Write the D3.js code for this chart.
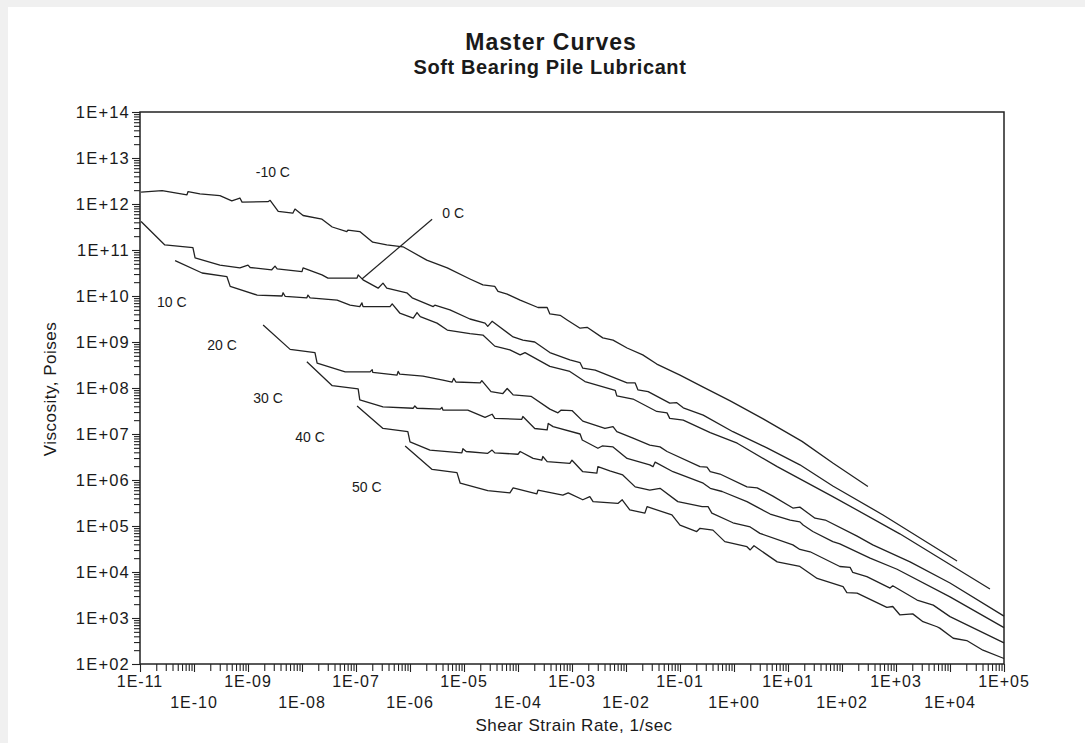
<!DOCTYPE html>
<html>
<head>
<meta charset="utf-8">
<script src="https://cdnjs.cloudflare.com/ajax/libs/d3/7.8.5/d3.min.js"></script>
<style>
  body { margin: 0; background: #f0f0f0; }
  svg { display: block; }
  text { font-family: "Liberation Sans", Arial, Helvetica, sans-serif; fill: #1a1a1a; }
</style>
</head>
<body>
<svg id="chart" width="1085" height="743"></svg>
<script>
// points are [log10 shear rate (1/sec), log10 viscosity (poises)]
const curveM10 = [[-10.98,12.26],[-10.59,12.29],[-10.13,12.20],[-10.11,12.27],[-9.89,12.22],[-9.52,12.18],[-9.30,12.07],[-9.15,12.13],[-9.11,12.04],[-8.63,12.05],[-8.59,12.08],[-8.44,11.84],[-8.17,11.80],[-8.13,11.89],[-7.98,11.75],[-7.63,11.67],[-7.44,11.50],[-7.17,11.40],[-7.15,11.43],[-6.93,11.40],[-6.69,11.17],[-6.43,11.11],[-6.13,11.07],[-5.69,10.78],[-5.31,10.61],[-4.89,10.37],[-4.65,10.24],[-4.43,10.21],[-4.37,10.10],[-4.20,10.04],[-3.96,9.91],[-3.63,9.75],[-3.46,9.75],[-3.41,9.61],[-3.22,9.58],[-3.09,9.48],[-2.85,9.30],[-2.72,9.32],[-2.43,9.09],[-2.24,9.04],[-1.98,8.87],[-1.69,8.72],[-1.43,8.52],[-1.00,8.28],[-0.57,8.02],[-0.07,7.72],[0.54,7.33],[1.26,6.84],[1.83,6.37],[2.48,5.86]]

const curve0 = [[-10.98,11.62],[-10.54,11.11],[-10.02,11.05],[-9.98,10.83],[-9.52,10.67],[-9.15,10.61],[-9.00,10.67],[-8.96,10.62],[-8.56,10.57],[-8.50,10.65],[-8.46,10.59],[-8.00,10.53],[-7.98,10.61],[-7.63,10.46],[-7.52,10.39],[-6.98,10.39],[-6.96,10.46],[-6.87,10.35],[-6.59,10.17],[-6.50,10.28],[-6.43,10.17],[-6.06,10.07],[-5.96,9.96],[-5.57,9.77],[-5.54,9.80],[-5.26,9.70],[-4.89,9.50],[-4.61,9.41],[-4.56,9.34],[-4.48,9.45],[-4.09,9.11],[-3.91,9.04],[-3.69,9.00],[-3.41,8.77],[-3.04,8.61],[-2.85,8.55],[-2.80,8.43],[-2.57,8.39],[-1.98,8.11],[-1.83,8.11],[-1.78,7.96],[-1.59,7.92],[-1.19,7.67],[-1.06,7.68],[-0.94,7.57],[-0.57,7.41],[-0.02,7.05],[0.61,6.70],[1.22,6.33],[1.83,5.87],[2.76,5.24],[4.13,4.24]]

const curve10 = [[-10.35,10.77],[-9.85,10.50],[-9.39,10.42],[-9.33,10.21],[-8.83,10.02],[-8.37,10.00],[-8.35,10.07],[-8.31,9.99],[-7.91,9.96],[-7.89,10.02],[-7.85,9.96],[-7.35,9.91],[-7.11,9.80],[-6.93,9.77],[-6.89,9.85],[-6.87,9.77],[-6.37,9.77],[-6.33,9.83],[-6.19,9.63],[-5.94,9.52],[-5.87,9.64],[-5.81,9.55],[-5.50,9.41],[-5.31,9.26],[-4.89,9.18],[-4.65,9.15],[-4.43,8.91],[-4.15,8.83],[-3.96,8.72],[-3.87,8.77],[-3.41,8.47],[-3.04,8.36],[-2.76,8.14],[-2.20,7.95],[-2.17,7.83],[-1.87,7.76],[-1.43,7.49],[-1.24,7.46],[-1.19,7.34],[-0.94,7.30],[-0.44,7.03],[0.06,6.80],[0.80,6.29],[1.83,5.64],[3.07,4.83],[4.74,3.63]]

const curve20 = [[-8.72,9.37],[-8.22,8.84],[-7.76,8.77],[-7.72,8.54],[-7.20,8.35],[-6.74,8.35],[-6.70,8.40],[-6.69,8.34],[-6.24,8.28],[-6.22,8.36],[-6.19,8.30],[-5.76,8.26],[-5.39,8.17],[-5.22,8.13],[-5.19,8.21],[-5.15,8.13],[-4.70,8.11],[-4.67,8.16],[-4.50,7.92],[-4.28,7.88],[-4.20,7.99],[-4.09,7.85],[-3.76,7.82],[-3.41,7.54],[-3.26,7.46],[-3.20,7.52],[-3.00,7.51],[-2.80,7.28],[-2.39,7.12],[-2.24,7.16],[-2.17,7.05],[-1.87,6.91],[-1.56,6.76],[-1.37,6.72],[-1.24,6.62],[-0.63,6.29],[-0.50,6.28],[-0.44,6.18],[-0.26,6.13],[0.24,5.85],[0.43,5.83],[0.72,5.65],[1.09,5.39],[1.22,5.41],[1.50,5.17],[1.69,5.13],[2.28,4.78],[2.57,4.59],[3.26,4.22],[4.00,3.76],[5.00,3.04]]

const curve30 = [[-7.91,8.57],[-7.44,8.05],[-6.96,7.98],[-6.93,7.74],[-6.50,7.59],[-5.94,7.56],[-5.91,7.61],[-5.87,7.56],[-5.44,7.54],[-5.41,7.58],[-5.39,7.52],[-4.93,7.52],[-4.61,7.36],[-4.48,7.43],[-4.43,7.34],[-3.93,7.32],[-3.91,7.38],[-3.69,7.12],[-3.46,7.09],[-3.44,7.23],[-3.35,7.16],[-2.85,7.00],[-2.81,6.87],[-2.52,6.69],[-2.44,6.74],[-2.24,6.72],[-1.98,6.47],[-1.56,6.33],[-1.50,6.29],[-1.46,6.39],[-1.13,6.18],[-0.57,5.93],[-0.44,5.82],[-0.22,5.75],[0.24,5.53],[0.43,5.41],[0.67,5.26],[1.04,5.13],[1.22,5.09],[1.28,5.02],[1.46,4.88],[1.83,4.66],[1.96,4.61],[2.52,4.30],[3.02,4.06],[4.00,3.46],[5.00,2.79]]

const curve40 = [[-6.98,7.61],[-6.50,7.12],[-6.04,7.05],[-6.00,6.83],[-5.63,6.65],[-5.04,6.59],[-5.02,6.68],[-4.96,6.62],[-4.56,6.58],[-4.48,6.65],[-4.43,6.59],[-4.00,6.56],[-3.96,6.62],[-3.72,6.47],[-3.56,6.43],[-3.54,6.51],[-3.46,6.40],[-3.04,6.36],[-3.00,6.43],[-2.80,6.18],[-2.54,6.15],[-2.52,6.29],[-2.30,6.20],[-2.06,6.11],[-1.83,5.85],[-1.56,5.78],[-1.37,5.82],[-1.04,5.53],[-0.59,5.42],[-0.48,5.42],[-0.41,5.28],[-0.02,5.07],[0.30,4.98],[0.48,4.84],[1.09,4.59],[1.22,4.49],[1.41,4.44],[1.96,4.12],[2.15,4.10],[2.20,3.99],[2.46,3.90],[2.89,3.65],[2.94,3.70],[3.39,3.39],[3.69,3.28],[4.00,3.03],[5.00,2.46]]

const curve50 = [[-6.09,6.74],[-5.59,6.23],[-5.13,6.16],[-5.07,5.93],[-4.56,5.77],[-4.15,5.72],[-4.09,5.83],[-3.65,5.70],[-3.63,5.78],[-3.17,5.67],[-3.07,5.72],[-2.80,5.57],[-2.67,5.64],[-2.61,5.53],[-2.15,5.49],[-2.07,5.57],[-1.93,5.35],[-1.65,5.28],[-1.61,5.42],[-1.15,5.24],[-1.00,5.02],[-0.69,4.88],[-0.63,4.95],[-0.39,4.91],[-0.17,4.66],[0.24,4.55],[0.30,4.48],[0.37,4.57],[0.80,4.22],[1.22,4.12],[1.54,3.86],[2.02,3.68],[2.09,3.55],[2.28,3.54],[2.83,3.23],[2.94,3.25],[3.07,3.07],[3.31,3.09],[3.50,2.92],[3.76,2.81],[3.81,2.78],[4.06,2.56],[4.31,2.51],[4.61,2.30],[5.00,2.12]]

const curveNames = ['-10 C', '0 C', '10 C', '20 C', '30 C', '40 C', '50 C']
const curves = [curveM10, curve0, curve10, curve20, curve30, curve40, curve50]
// where each name sits, same log units as the curves
const labelSpots = [[-8.54,12.70],[-5.20,11.80],[-10.41,9.87],[-9.48,8.93],[-8.63,7.78],[-7.85,6.93],[-6.80,5.85]]
// pointer from the "0 C" name down to its curve
const leader0C = [[-6.89,10.37],[-5.59,11.67]]

const xTickLabels = ['1E-11','1E-10','1E-09','1E-08','1E-07','1E-06','1E-05','1E-04','1E-03','1E-02','1E-01','1E+00','1E+01','1E+02','1E+03','1E+04','1E+05']
const yTickLabels = ['1E+02','1E+03','1E+04','1E+05','1E+06','1E+07','1E+08','1E+09','1E+10','1E+11','1E+12','1E+13','1E+14']

const svg = d3.select('#chart')
svg.append('rect').attr('x', 8).attr('y', 7).attr('width', 1077).attr('height', 736).attr('fill', '#fff')

const plotLeft = 140, plotRight = 1004, plotTop = 112, plotBottom = 664
const x = d3.scaleLog().domain([1e-11, 1e5]).range([plotLeft, plotRight])
const y = d3.scaleLog().domain([1e2, 1e14]).range([plotBottom, plotTop])

const xMajor = xTickLabels.map(Number)
const yMajor = yTickLabels.map(Number)
function minorsOf (majors) {
  const out = []
  majors.slice(0, -1).forEach(m => { for (let k = 2; k < 10; k++) out.push(m * k) })
  return out
}

// x axis, labels staggered on two rows
const gx = svg.append('g').attr('transform', 'translate(0,' + plotBottom + ')')
gx.append('g').call(d3.axisBottom(x).tickValues(xMajor).tickSize(8).tickSizeOuter(0).tickFormat(''))
gx.append('g').call(d3.axisBottom(x).tickValues(minorsOf(xMajor)).tickSize(7).tickSizeOuter(0).tickFormat(''))
gx.selectAll('.domain').remove()
gx.selectAll('.tick line').attr('stroke', '#222').attr('stroke-width', 1.1)
gx.selectAll('.xlab').data(xTickLabels).enter().append('text')
  .attr('class', 'xlab')
  .attr('x', d => x(+d))
  .attr('y', (d, i) => i % 2 === 0 ? 23 : 44)
  .attr('text-anchor', 'middle')
  .style('font-size', '16px')
  .style('letter-spacing', '1px')
  .text(d => d)

// y axis
const gy = svg.append('g').attr('transform', 'translate(' + plotLeft + ',0)')
gy.append('g').call(d3.axisLeft(y).tickValues(yMajor).tickSize(8).tickSizeOuter(0).tickPadding(2)
  .tickFormat((d, i) => yTickLabels[i]))
gy.append('g').call(d3.axisLeft(y).tickValues(minorsOf(yMajor)).tickSize(6).tickSizeOuter(0).tickFormat(''))
gy.selectAll('.domain').remove()
gy.selectAll('.tick line').attr('stroke', '#222').attr('stroke-width', 1.1)
gy.selectAll('.tick text').attr('fill', '#1a1a1a')
  .style('font-size', '16.5px').style('letter-spacing', '1.2px')
  .style('font-family', '"Liberation Sans", Arial, Helvetica, sans-serif')

// frame
svg.append('rect').attr('x', plotLeft).attr('y', plotTop)
  .attr('width', plotRight - plotLeft).attr('height', plotBottom - plotTop)
  .attr('fill', 'none').attr('stroke', '#222').attr('stroke-width', 1.5)

// curves
const line = d3.line().x(d => x(Math.pow(10, d[0]))).y(d => y(Math.pow(10, d[1])))
svg.append('g').selectAll('path').data(curves).enter().append('path')
  .attr('d', line)
  .attr('fill', 'none')
  .attr('stroke', '#222')
  .attr('stroke-width', 1.3)
  .attr('stroke-linejoin', 'round')

svg.append('path').attr('d', line(leader0C)).attr('fill', 'none').attr('stroke', '#222').attr('stroke-width', 1.2)

svg.append('g').selectAll('text').data(curveNames).enter().append('text')
  .attr('x', (d, i) => x(Math.pow(10, labelSpots[i][0])))
  .attr('y', (d, i) => y(Math.pow(10, labelSpots[i][1])))
  .attr('dy', '0.36em')
  .attr('text-anchor', 'middle')
  .style('font-size', '14px')
  .text(d => d)

// titles
svg.append('text').attr('x', 551).attr('y', 50).attr('text-anchor', 'middle')
  .style('font-size', '23px').style('font-weight', 'bold').style('letter-spacing', '1px')
  .text('Master Curves')
svg.append('text').attr('x', 550).attr('y', 73.5).attr('text-anchor', 'middle')
  .style('font-size', '20px').style('font-weight', 'bold').style('letter-spacing', '0.6px')
  .text('Soft Bearing Pile Lubricant')
svg.append('text').attr('x', 574).attr('y', 731).attr('text-anchor', 'middle')
  .style('font-size', '17px').style('letter-spacing', '0.5px')
  .text('Shear Strain Rate, 1/sec')
svg.append('text').attr('transform', 'translate(56,389) rotate(-90)').attr('text-anchor', 'middle')
  .style('font-size', '17px').style('letter-spacing', '0.5px')
  .text('Viscosity, Poises')
</script>
</body>
</html>
